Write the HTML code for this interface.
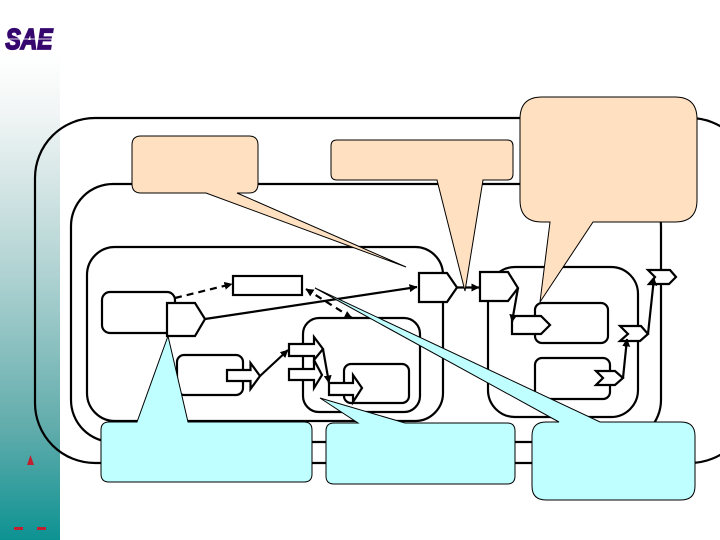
<!DOCTYPE html>
<html>
<head>
<meta charset="utf-8">
<style>
html,body{margin:0;padding:0;background:#fff}
svg{display:block}
</style>
</head>
<body>
<svg width="720" height="540" viewBox="0 0 720 540" xmlns="http://www.w3.org/2000/svg">
<defs>
<linearGradient id="band" x1="0" y1="0" x2="0" y2="1">
<stop offset="0" stop-color="#ffffff"/>
<stop offset="0.1" stop-color="#ffffff"/>
<stop offset="0.2" stop-color="#f3f6f6"/>
<stop offset="0.5" stop-color="#b2d3d3"/>
<stop offset="0.8" stop-color="#5fabab"/>
<stop offset="1" stop-color="#0d9292"/>
</linearGradient>
<marker id="ah" markerWidth="9" markerHeight="9" refX="7.5" refY="4" orient="auto" markerUnits="userSpaceOnUse">
<path d="M0 0L8 4L0 8Z" fill="#000"/>
</marker>
</defs>

<rect x="0" y="0" width="60" height="540" fill="url(#band)"/>
<text x="5.500" y="49" font-family="'Liberation Sans',sans-serif" font-size="29" font-weight="bold" font-style="italic" fill="#36076f" stroke="#36076f" stroke-width="1.800" textLength="47" lengthAdjust="spacingAndGlyphs">SAE</text>
<rect x="9" y="38.500" width="44" height="1" fill="#fff" opacity="0.85"/>

<path d="M30.500 455L34 465H27Z" fill="#c02030"/>
<rect x="14" y="527" width="9" height="3" fill="#c02030"/>
<rect x="37" y="527" width="9" height="3" fill="#c02030"/>

<g fill="none" stroke="#000" stroke-width="2.200">
<rect x="35" y="118" width="715" height="345" rx="60" ry="60"/>
<rect x="71" y="184" width="590" height="258" rx="42" ry="42"/>
<rect x="87" y="247" width="356" height="174" rx="28" ry="28"/>
<rect x="488" y="267" width="150" height="150" rx="27" ry="27"/>
<rect x="303" y="318" width="117" height="94" rx="16" ry="16"/>
<rect x="344" y="364" width="65" height="39" rx="7" ry="7"/>
<rect x="102" y="292" width="73" height="41" rx="8" ry="8"/>
<rect x="177" y="355" width="66" height="40" rx="7" ry="7"/>
<rect x="535" y="303" width="73" height="40" rx="7" ry="7"/>
<rect x="535" y="358" width="75" height="41" rx="7" ry="7"/>
</g>

<rect x="233" y="276" width="69" height="19" fill="#fff" stroke="#000" stroke-width="2.200"/>

<g fill="#fff" stroke="#000" stroke-width="2.200" stroke-linejoin="miter">
<path d="M167 303H195L205 319L195 336H167Z"/>
<path d="M419 273H447L457 287.500L447 302H419Z"/>
<path d="M480 272H508L518 288L508 301H480Z"/>
<path d="M512 316H541L550 325L541 334H512Z"/>
<path d="M227 370H250.500V363L260 376L250.500 389V381H227Z"/>
<path d="M289 369H314V360L322 375L314 388V380H289Z"/>
<path d="M289 344H314V337L323 349L314 360V356H289Z"/>
<path d="M329 383H353V375L362 388L353 402V395H329Z"/>
<path d="M596 371H615L623 378L615 385H596L603 378Z"/>
<path d="M620 326H641L648 334L640 341H620L628 334Z"/>
<path d="M648 270H670L676 277L669 284H649L655 277Z"/>
</g>

<g fill="none" stroke="#000" stroke-width="2.200">
<path d="M205 319L417 287" marker-end="url(#ah)"/>
<path d="M457 287.500L479 287.500" marker-end="url(#ah)"/>
<path d="M518 288L512 322" marker-end="url(#ah)"/>
<path d="M260 376L288 350" marker-end="url(#ah)"/>
<path d="M323 349L329 383" marker-end="url(#ah)"/>
<path d="M623 378L627 339" marker-end="url(#ah)"/>
<path d="M648 334L654 278" marker-end="url(#ah)"/>
<path d="M175 298L232 284" stroke-dasharray="7 5" marker-end="url(#ah)"/>
<path d="M352 318L306 289" stroke-dasharray="7 5" marker-end="url(#ah)"/>
<path d="M346 315L352 318" marker-end="url(#ah)"/>
</g>

<g stroke="#000" stroke-width="1" stroke-linejoin="miter">
<path fill="#ffe0c0" d="M141 136H249Q258 136 258 145V184Q258 193 249 193H237L406 267L206 193H141Q132 193 132 184V145Q132 136 141 136Z"/>
<path fill="#ffe0c0" d="M337 140H507Q513 140 513 146V174Q513 180 507 180H483L465 291L437 180H337Q331 180 331 174V146Q331 140 337 140Z"/>
<path fill="#ffe0c0" d="M542 97H675Q697 97 697 119V200Q697 222 675 222H593L540 302L550 222H542Q520 222 520 200V119Q520 97 542 97Z"/>
<path fill="#c0ffff" d="M109 422H137L168 336L188 422H304Q312 422 312 430V474Q312 482 304 482H109Q101 482 101 474V430Q101 422 109 422Z"/>
<path fill="#c0ffff" d="M334 423H358L320 398L405 423H507Q515 423 515 431V476Q515 484 507 484H334Q326 484 326 476V431Q326 423 334 423Z"/>
<path fill="#c0ffff" d="M546 422H559L315 288L600 422H681Q695 422 695 436V486Q695 500 681 500H546Q532 500 532 486V436Q532 422 546 422Z"/>
</g>
</svg>
</body>
</html>
